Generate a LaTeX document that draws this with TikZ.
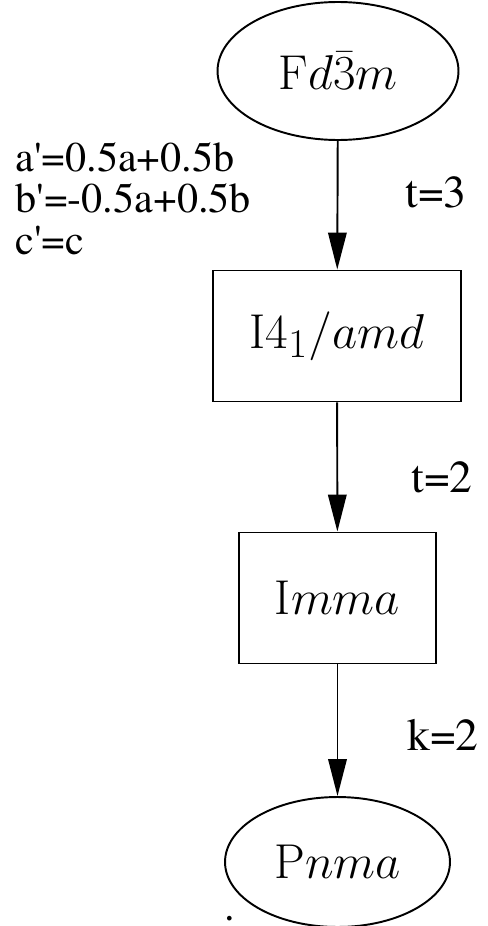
\documentclass[tikz,border=0pt]{standalone}
\usepackage[no-math]{fontspec}
\newfontfamily\labelfont{TeX Gyre Termes}
\usepackage{graphicx}
\usepackage{tikz}
\usetikzlibrary{shapes.geometric, arrows.meta, positioning}
\newcommand{\spg}[1]{\scalebox{1.12}{$#1$}}

\begin{document}
\begin{tikzpicture}[x=0.02cm, y=-0.02cm,
  group/.style={draw, line width=1.1pt, font=\fontsize{24.88}{30}\selectfont},
  groupell/.style={group, ellipse, inner sep=0pt},
  groupbox/.style={group, rectangle, inner sep=0pt},
  sub/.style={-{Triangle[length=0.74cm, width=0.37cm]}, line width=1.1pt},
  idx/.style={font=\labelfont\fontsize{26}{30}\selectfont, inner sep=0pt, anchor=west},
  basis/.style={idx, font=\labelfont\fontsize{24}{28}\selectfont}
]
\useasboundingbox (0,0) rectangle (487,926);

% Space groups
\node[groupell, minimum width=4.82cm, minimum height=2.76cm] (fd3m) at (338,71) {\spg{\mathrm{F}d\bar{3}m}};
\node[groupbox, minimum width=4.96cm, minimum height=2.62cm] (i41amd) at (337,336) {\spg{\mathrm{I}4_1/amd}};
\node[groupbox, minimum width=3.94cm, minimum height=2.62cm] (imma) at (337.5,598) {\spg{\mathrm{I}mma}};
\node[groupell, minimum width=4.5cm, minimum height=2.6cm] (pnma) at (337.5,862) {\spg{\mathrm{P}nma}};

% Subgroup relations
\draw[sub] (fd3m) -- (i41amd);
\draw[sub] (i41amd) -- (imma);
\draw[sub] (imma) -- (pnma);

% Indices
\node[idx] (t3) at (405,192) {t=3};
\node[idx] (t2) at (411,477) {t=2};
\node[idx] (k2) at (407,735) {k=2};

% Basis transformation
\node[basis] (basis1) at (15,157) {a\textquotesingle=0.5a+0.5b};
\node[basis] (basis2) at (15,198) {b\textquotesingle=-0.5a+0.5b};
\node[basis] (basis3) at (15,240) {c\textquotesingle=c};

\node[basis, anchor=base] (dot) at (230,920) {.};

\end{tikzpicture}
\end{document}
